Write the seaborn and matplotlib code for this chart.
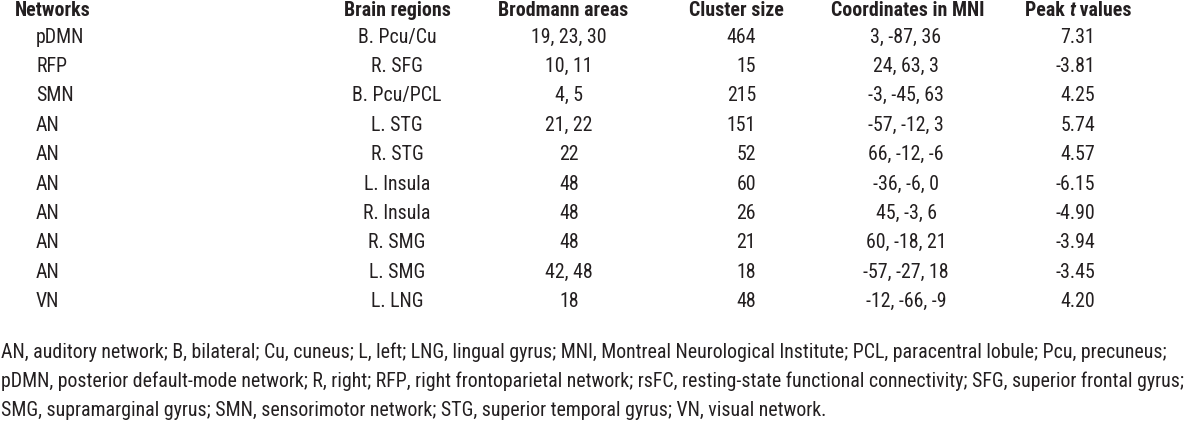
import matplotlib
matplotlib.use('Agg')
import matplotlib.pyplot as plt
import seaborn as sns

networks = ['pDMN', 'RFP', 'SMN', 'AN', 'AN', 'AN', 'AN', 'AN', 'AN', 'VN']
regions = ['B. Pcu/Cu', 'R. SFG', 'B. Pcu/PCL', 'L. STG', 'R. STG', 'L. Insula',
           'R. Insula', 'R. SMG', 'L. SMG', 'L. LNG']
brodmann = ['19, 23, 30', '10, 11', '4, 5', '21, 22', '22', '48', '48', '48', '42, 48', '18']
cluster_size = [464, 15, 215, 151, 52, 60, 26, 21, 18, 48]
coords = ['3, -87, 36', '24, 63, 3', '-3, -45, 63', '-57, -12, 3', '66, -12, -6',
          '-36, -6, 0', '45, -3, 6', '60, -18, 21', '-57, -27, 18', '-12, -66, -9']
peak_t = [7.31, -3.81, 4.25, 5.74, 4.57, -6.15, -4.90, -3.94, -3.45, 4.20]

footnote = [
    'AN, auditory network; B, bilateral; Cu, cuneus; L, left; LNG, lingual gyrus; MNI, Montreal Neurological Institute; PCL, paracentral lobule; Pcu, precuneus;',
    'pDMN, posterior default-mode network; R, right; RFP, right frontoparietal network; rsFC, resting-state functional connectivity; SFG, superior frontal gyrus;',
    'SMG, supramarginal gyrus; SMN, sensorimotor network; STG, superior temporal gyrus; VN, visual network.',
]

sns.set_style('white')
plt.rcParams['font.family'] = ['Roboto Condensed', 'DejaVu Sans']
ink = '#231f20'

fig = plt.figure(figsize=(12, 4.28), dpi=100)
ax = fig.add_axes([0, 0, 1, 1])
ax.set_xlim(0, 1200)
ax.set_ylim(428, 0)
ax.axis('off')
fig.canvas.draw()
r = fig.canvas.get_renderer()


def text_width(s, **kw):
    t = ax.text(0, 0, s.replace(' ', '\u00a0'), **kw)
    w = t.get_window_extent(r).width
    t.remove()
    return w


# font size chosen so the longest footnote line spans the page as in the reference
longest = max(text_width(line, fontsize=13.5) for line in footnote)
fs = 13.5 * 1188 / longest

head_y = 10
row_y0 = 37
row_dy = 29.4

hd = dict(va='center', fontsize=fs, fontweight='bold', color=ink)
ax.text(15, head_y, 'Networks', ha='left', **hd)
ax.text(397, head_y, 'Brain regions', ha='center', **hd)
ax.text(563, head_y, 'Brodmann areas', ha='center', **hd)
ax.text(736, head_y, 'Cluster size', ha='center', **hd)
ax.text(908, head_y, 'Coordinates in MNI', ha='center', **hd)

# "Peak t values" with italic t
pieces = [('Peak ', 'normal'), ('t', 'italic'), (' values', 'normal')]
widths = [text_width(s, fontsize=fs, fontweight='bold', style=st) for s, st in pieces]
x = 1078 - sum(widths) / 2
for (s, st), w in zip(pieces, widths):
    ax.text(x, head_y, s.replace(' ', '\u00a0'), ha='left', style=st, **hd)
    x += w

for i in range(len(networks)):
    y = row_y0 + i * row_dy
    kw = dict(va='center', fontsize=fs, color=ink)
    ax.text(36, y, networks[i], ha='left', **kw)
    ax.text(397, y, regions[i], ha='center', **kw)
    ax.text(569, y, brodmann[i], ha='center', **kw)
    ax.text(756, y, str(cluster_size[i]), ha='right', **kw)
    ax.text(906, y, coords[i], ha='center', **kw)
    ax.text(1095, y, f'{peak_t[i]:.2f}', ha='right', **kw)

foot_y = [352, 381, 410]
for y, line in zip(foot_y, footnote):
    ax.text(1, y, line, ha='left', va='center', fontsize=fs, color=ink)

fig.savefig('out.png', dpi=100, facecolor='white')
